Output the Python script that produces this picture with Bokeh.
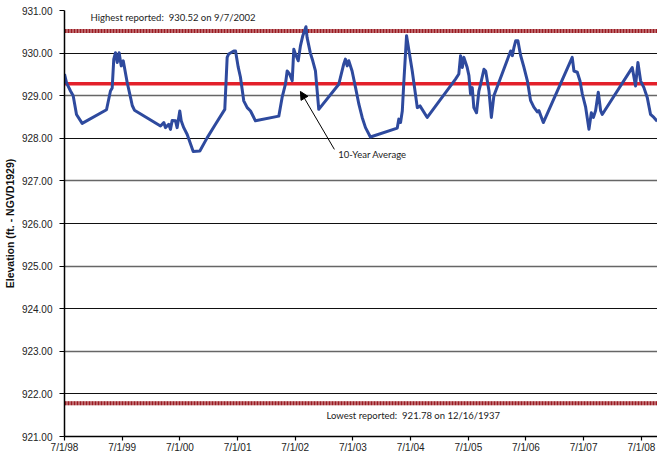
import pandas as pd
from bokeh.plotting import figure
from bokeh.models import (FixedTicker, PrintfTickFormatter, Label, Arrow, NormalHead, Grid)
from bokeh.embed import file_html
from bokeh.resources import INLINE

# Lake elevation record, 1998-2008 (ft, NGVD1929)
dates = [
    "1998-07-01", "1998-07-14", "1998-08-08", "1998-08-25", "1998-09-15", "1998-10-21",
    "1999-03-24", "1999-04-18", "1999-04-29", "1999-05-09", "1999-05-20", "1999-05-31",
    "1999-06-12", "1999-06-25", "1999-07-08", "1999-08-02", "1999-08-23", "1999-09-03",
    "1999-09-17", "2000-02-29", "2000-03-21", "2000-03-31", "2000-04-21", "2000-05-02",
    "2000-05-13", "2000-06-03", "2000-06-13", "2000-06-30", "2000-07-09", "2000-07-25",
    "2000-08-16", "2000-09-23", "2000-11-04", "2000-12-20", "2001-02-11", "2001-04-11",
    "2001-04-26", "2001-05-06", "2001-06-07", "2001-06-18", "2001-07-05", "2001-07-19",
    "2001-08-09", "2001-08-31", "2001-09-21", "2001-10-22", "2002-03-19", "2002-04-09",
    "2002-04-30", "2002-05-11", "2002-05-26", "2002-06-12", "2002-06-22", "2002-07-02",
    "2002-07-20", "2002-08-03", "2002-08-18", "2002-09-07", "2002-09-14", "2002-10-05",
    "2002-10-20", "2002-11-06", "2002-11-27", "2003-04-03", "2003-05-04", "2003-05-15",
    "2003-05-26", "2003-06-05", "2003-06-26", "2003-07-18", "2003-08-08", "2003-08-29",
    "2003-09-19", "2003-10-20", "2004-04-07", "2004-04-17", "2004-04-28", "2004-05-09",
    "2004-05-19", "2004-06-05", "2004-06-20", "2004-07-11", "2004-08-12", "2004-08-29",
    "2004-10-14", "2005-04-11", "2005-05-02", "2005-05-13", "2005-05-24", "2005-06-03",
    "2005-06-24", "2005-07-05", "2005-07-15", "2005-07-26", "2005-08-05", "2005-08-22",
    "2005-09-06", "2005-09-17", "2005-10-08", "2005-10-19", "2005-11-09", "2005-11-24",
    "2005-12-10", "2006-03-26", "2006-04-06", "2006-04-16", "2006-04-27", "2006-05-11",
    "2006-05-28", "2006-06-18", "2006-07-10", "2006-07-30", "2006-08-20", "2006-09-11",
    "2006-09-21", "2006-10-19", "2007-04-20", "2007-05-01", "2007-05-22", "2007-06-08",
    "2007-06-23", "2007-07-14", "2007-08-04", "2007-08-19", "2007-09-01", "2007-09-15",
    "2007-10-02", "2007-10-17", "2007-10-27", "2008-05-04", "2008-05-25", "2008-06-09",
    "2008-06-26", "2008-07-17", "2008-08-07", "2008-08-28", "2008-09-18", "2008-10-09",
]
elevation = [
    929.51, 929.30, 929.11, 929.00, 928.56, 928.35,
    928.67, 929.11, 929.18, 929.86, 930.01, 929.78,
    930.01, 929.70, 929.82, 929.31, 928.96, 928.77,
    928.66, 928.29, 928.37, 928.25, 928.33, 928.21,
    928.42, 928.41, 928.25, 928.64, 928.41, 928.25,
    928.09, 927.69, 927.70, 928.01, 928.33, 928.68,
    929.90, 929.98, 930.05, 930.05, 929.67, 929.44,
    928.88, 928.72, 928.64, 928.41, 928.52, 928.96,
    929.27, 929.58, 929.51, 929.35, 930.09, 929.98,
    929.82, 930.17, 930.41, 930.62, 930.37, 930.00,
    929.82, 929.58, 928.68, 929.27, 929.74, 929.86,
    929.70, 929.82, 929.58, 929.19, 928.80, 928.49,
    928.25, 928.03, 928.24, 928.45, 928.37, 928.64,
    929.34, 930.41, 930.06, 929.58, 928.72, 928.76,
    928.49, 929.39, 929.51, 929.94, 929.66, 929.90,
    929.66, 929.47, 929.04, 929.19, 928.72, 928.60,
    929.11, 929.27, 929.62, 929.58, 929.11, 928.49,
    929.00, 930.05, 929.94, 930.13, 930.29, 930.29,
    929.95, 929.67, 929.35, 928.89, 928.73, 928.62,
    928.65, 928.37, 929.90, 929.58, 929.55, 929.35,
    929.04, 928.73, 928.21, 928.60, 928.49, 928.65,
    929.08, 928.65, 928.56, 929.66, 929.23, 929.78,
    929.35, 929.19, 928.96, 928.56, 928.49, 928.40,
]

ten_year_average = 929.28
highest_reported = 930.52
lowest_reported = 921.78

tick_dates = ["1998-07-01", "1999-07-01", "2000-07-01", "2001-07-01", "2002-07-01",
              "2003-07-01", "2004-07-01", "2005-07-01", "2006-07-01", "2007-07-01",
              "2008-07-01"]
tick_labels = ["7/1/98", "7/1/99", "7/1/00", "7/1/01", "7/1/02", "7/1/03",
               "7/1/04", "7/1/05", "7/1/06", "7/1/07", "7/1/08"]
y_ticks = [921, 922, 923, 924, 925, 926, 927, 928, 929, 930, 931]


def ms(s):
    return int(pd.Timestamp(s).timestamp() * 1000)


x = pd.to_datetime(dates)
x_start = pd.Timestamp("1998-07-01")
x_end = pd.Timestamp("2008-10-11")

p = figure(width=657, height=455, x_axis_type="datetime",
           x_range=(x_start, x_end), y_range=(921, 931),
           output_backend="svg", toolbar_location=None,
           min_border_left=64, min_border_right=0, min_border_top=10,
           min_border_bottom=18)
p.outline_line_color = None
p.background_fill_color = "white"
p.border_fill_color = "white"

# gridlines: even values black, odd values dark grey
p.ygrid.ticker = FixedTicker(ticks=[v for v in y_ticks if v % 2 == 0 and v != 921])
p.ygrid.grid_line_color = "#111111"
p.ygrid.grid_line_width = 1
p.xgrid.grid_line_color = None
odd_grid = Grid(dimension=1, ticker=FixedTicker(ticks=[v for v in y_ticks if v % 2 == 1 and v != 921]),
                grid_line_color="#666666", grid_line_width=1.6)
p.add_layout(odd_grid)

# axes
font = "Liberation Sans"
p.yaxis.ticker = FixedTicker(ticks=y_ticks)
p.yaxis.formatter = PrintfTickFormatter(format="%.2f")
p.xaxis.ticker = FixedTicker(ticks=[ms(d) for d in tick_dates])
p.xaxis.major_label_overrides = {ms(d): lab for d, lab in zip(tick_dates, tick_labels)}
for ax in (p.xaxis[0], p.yaxis[0]):
    ax.axis_line_color = "black"
    ax.axis_line_width = 1.5
    ax.major_tick_line_color = "black"
    ax.major_tick_line_width = 1.2
    ax.major_tick_in = 0
    ax.minor_tick_line_color = None
    ax.major_label_text_font = font
    ax.major_label_text_font_size = "10px"
    ax.major_label_text_color = "#222222"
p.yaxis.major_tick_out = 5
p.xaxis.major_tick_out = 4
p.yaxis.major_label_standoff = 7
p.xaxis.major_label_standoff = 1
p.yaxis.axis_label = "Elevation (ft. - NGVD1929)"
p.yaxis.axis_label_text_font = font
p.yaxis.axis_label_text_font_size = "10.5px"
p.yaxis.axis_label_text_font_style = "bold"
p.yaxis.axis_label_text_color = "#111111"
p.yaxis.axis_label_standoff = 3

# record high / low reference lines (dotted dark red bands)
for level in (highest_reported, lowest_reported):
    p.line([x_start, x_end], [level, level], line_color="#dcaeb0", line_width=4)
    p.line([x_start, x_end], [level, level], line_color="#9b1b22", line_width=4,
           line_dash="2 1")

# ten-year average
p.line([x_start, x_end], [ten_year_average, ten_year_average],
       line_color="#e3202a", line_width=3.5)

# elevation record
p.line(x, elevation, line_color="#2e4a9e", line_width=3, line_join="round")

label_font = "Lato"
label_size = "9.5px"
p.add_layout(Label(x=pd.Timestamp("1998-12-13"), y=930.83,
                   text="Highest reported:\u00a0 930.52 on 9/7/2002",
                   text_font=label_font, text_font_size=label_size, text_color="#222222",
                   text_baseline="middle"))
p.add_layout(Label(x=pd.Timestamp("2003-01-15"), y=921.49,
                   text="Lowest reported:\u00a0 921.78 on 12/16/1937",
                   text_font=label_font, text_font_size=label_size, text_color="#222222",
                   text_baseline="middle"))
p.add_layout(Label(x=pd.Timestamp("2003-03-31"), y=927.62,
                   text="10-Year Average",
                   text_font=label_font, text_font_size=label_size, text_color="#222222",
                   text_baseline="middle"))
p.add_layout(Arrow(end=NormalHead(size=8, fill_color="black", line_color="black"),
                   x_start=pd.Timestamp("2003-03-06"), y_start=927.74,
                   x_end=pd.Timestamp("2002-08-03"), y_end=929.10,
                   line_color="black", line_width=1))

open("out.html", "w").write(file_html(p, INLINE))
